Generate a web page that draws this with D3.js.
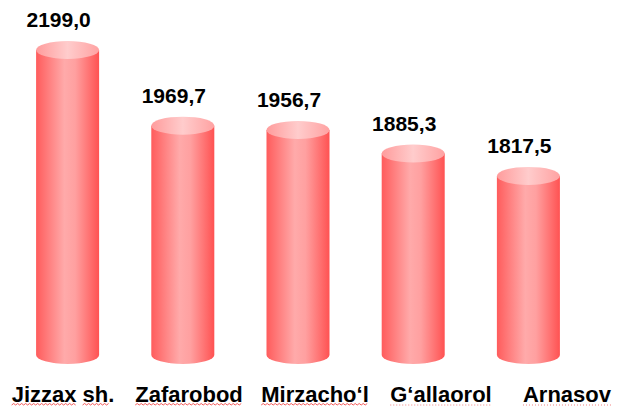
<!DOCTYPE html>
<html>
<head>
  <meta charset="utf-8">
  <script src="https://d3js.org/d3.v7.min.js"></script>
  <style>
  body { margin: 0; background: #fff; font-family: "Liberation Sans", Arial, sans-serif; }
  .value { font-size: 21px; font-weight: bold; fill: #000; }
  .cat { font-size: 22px; font-weight: bold; fill: #000; }
  </style>
</head>
<body>
<div id="chart"></div>
<script>
  // data
  var categories = ["Jizzax sh.", "Zafarobod", "Mirzacho\u2018l", "G\u2018allaorol", "Arnasov"];
  var values = [2199.0, 1969.7, 1956.7, 1885.3, 1817.5];
  // spell-check marks under the labels: wavy or dotted
  var marks = ["wavy", "wavy", "wavy", "dotted", "dotted"];

  var width = 617, height = 408;
  var ry = 9;

  var svg = d3.select("#chart").append("svg")
    .attr("width", width)
    .attr("height", height);

  var defs = svg.append("defs");

  var bodyGrad = defs.append("linearGradient").attr("id", "body")
    .attr("x1", "0%").attr("x2", "100%").attr("y1", "0%").attr("y2", "0%");
  bodyGrad.append("stop").attr("offset", "0%").attr("stop-color", "#ff5c5c");
  bodyGrad.append("stop").attr("offset", "45%").attr("stop-color", "#ffaaaa");
  bodyGrad.append("stop").attr("offset", "62%").attr("stop-color", "#ffa0a0");
  bodyGrad.append("stop").attr("offset", "100%").attr("stop-color", "#ff5252");

  var topGrad = defs.append("linearGradient").attr("id", "top")
    .attr("x1", "0%").attr("x2", "100%").attr("y1", "0%").attr("y2", "0%");
  topGrad.append("stop").attr("offset", "0%").attr("stop-color", "#ff9c9c");
  topGrad.append("stop").attr("offset", "50%").attr("stop-color", "#ffcccc");
  topGrad.append("stop").attr("offset", "100%").attr("stop-color", "#ffa2a2");

  var x = d3.scaleBand()
    .domain(categories)
    .range([10, 586])
    .paddingInner(0.453)
    .paddingOuter(0.2265);

  // labels below sit on a wider band than the cylinders
  var xl = d3.scaleBand()
    .domain(categories)
    .range([0, 630]);

  var y = d3.scaleLinear()
    .domain([1275, 2199])
    .range([355, 50]);

  var rx = x.bandwidth() / 2;

  var cyl = svg.selectAll("g.cyl")
    .data(categories)
    .enter().append("g")
    .attr("class", "cyl");

  cyl.append("path")
    .attr("fill", "url(#body)")
    .attr("d", function(d, i) {
      var l = x(d), r = x(d) + x.bandwidth();
      var t = y(values[i]), b = y.range()[0];
      return "M" + l + "," + t + "L" + l + "," + b +
        "A" + rx + "," + ry + " 0 0 0 " + r + "," + b +
        "L" + r + "," + t + "Z";
    });

  cyl.append("ellipse")
    .attr("fill", "url(#top)")
    .attr("cx", function(d) { return x(d) + rx; })
    .attr("cy", function(d, i) { return y(values[i]); })
    .attr("rx", rx)
    .attr("ry", ry);

  svg.selectAll("text.value")
    .data(categories)
    .enter().append("text")
    .attr("class", "value")
    .attr("text-anchor", "middle")
    .attr("x", function(d) { return x(d) + rx - 9; })
    .attr("y", function(d, i) { return y(values[i]) - ry - 14; })
    .text(function(d, i) { return values[i].toFixed(1).replace(".", ","); });

  var cats = svg.selectAll("text.cat")
    .data(categories)
    .enter().append("text")
    .attr("class", "cat")
    .attr("text-anchor", "middle")
    .attr("x", function(d) { return xl(d) + xl.bandwidth() / 2; })
    .attr("y", 402)
    .text(function(d) { return d; });

  // squiggly underlines, one per word
  cats.each(function(d, i) {
    var node = this;
    var start = node.getStartPositionOfChar(0).x;
    var pos = 0;
    d.split(" ").forEach(function(w) {
      var idx = d.indexOf(w, pos);
      pos = idx + w.length;
      var x0 = start + (idx > 0 ? node.getSubStringLength(0, idx) : 0);
      var x1 = start + node.getSubStringLength(0, idx + w.length);
      if (w === "sh.") x1 -= 4;
      var yy = 405;
      if (marks[i] === "wavy") {
        var p = "M" + x0 + "," + yy;
        for (var k = x0 + 2, up = true; k <= x1; k += 2, up = !up) {
          p += "L" + k + "," + (up ? yy - 1.5 : yy);
        }
        svg.append("path").attr("d", p)
          .attr("fill", "none").attr("stroke", "#f03030").attr("stroke-width", 0.8);
      } else {
        svg.append("line")
          .attr("x1", x0).attr("x2", x1).attr("y1", yy).attr("y2", yy)
          .attr("stroke", "#f08080").attr("stroke-width", 1)
          .attr("stroke-dasharray", "1,2");
      }
    });
  });
</script>
</body>
</html>
